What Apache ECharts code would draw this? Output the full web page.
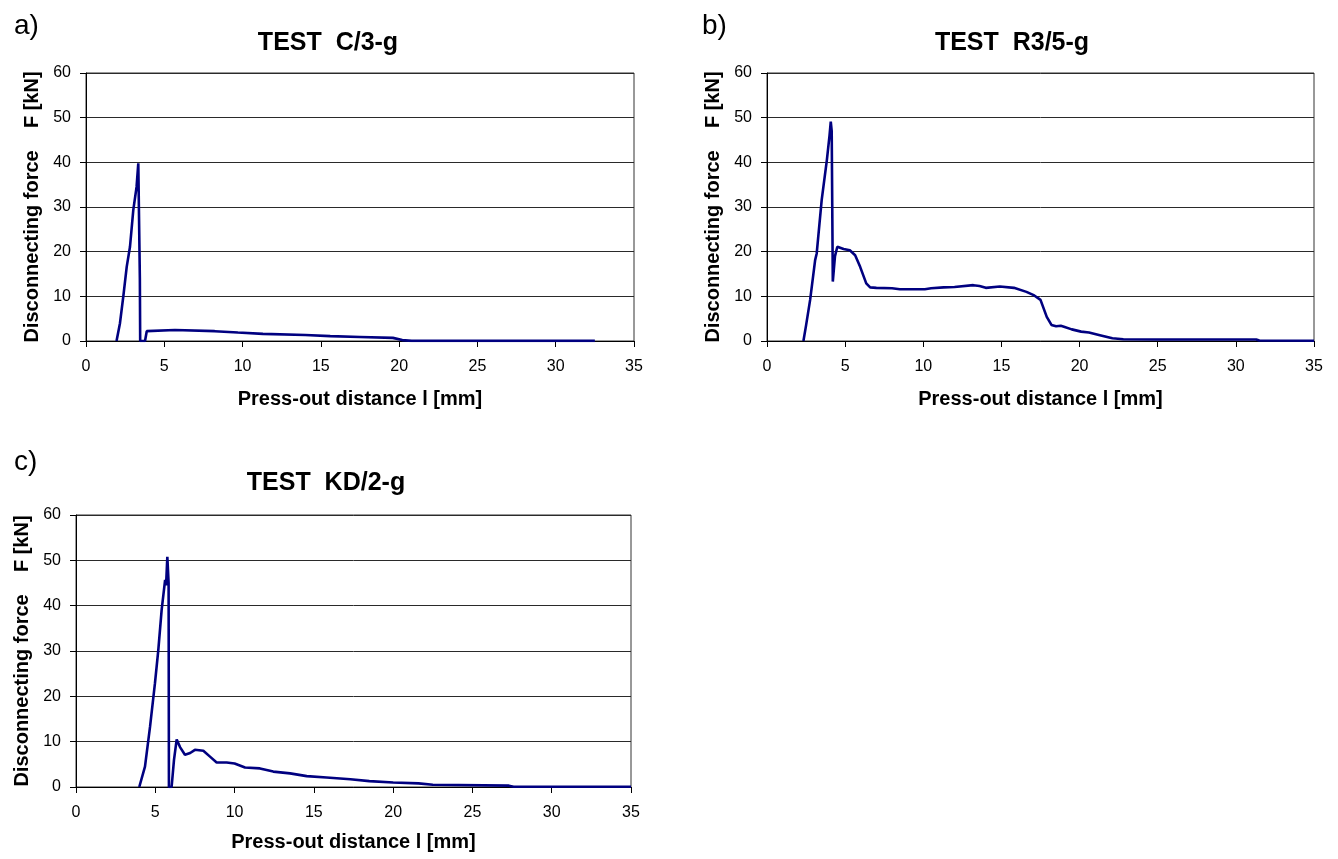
<!DOCTYPE html>
<html>
<head>
<meta charset="utf-8">
<script src="https://cdn.jsdelivr.net/npm/echarts@6/dist/echarts.min.js"></script>
<style>
html,body{margin:0;padding:0;background:#fff;}
#chart{width:1338px;height:859px;}
</style>
</head>
<body>
<div id="chart"></div>
<script>
// ---- Data ----
const titles = ['TEST  C/3-g', 'TEST  R3/5-g', 'TEST  KD/2-g'];
const panelLetters = ['a)', 'b)', 'c)'];
const xTickValues = [0, 5, 10, 15, 20, 25, 30, 35];
const yTickValues = [0, 10, 20, 30, 40, 50, 60];
const xName = 'Press-out distance l [mm]';
const yName = 'Disconnecting force    F [kN]';

// a) TEST C/3-g
const aX = [1.95, 2.17, 2.38, 2.6, 2.81, 3.02, 3.23, 3.34, 3.36, 3.44, 3.46, 3.77, 3.88, 3.98, 5.68, 5.72, 8.22, 8.26, 9.7, 9.76, 11.3, 11.35, 14.0, 14.05, 15.6, 15.65, 17.5, 17.55, 19.6, 19.7, 20.2, 20.8, 32.5];
const aY = [0, 4.0, 9.9, 16.6, 21.1, 29.3, 34.5, 39.8, 40.0, 14.0, 0, 0, 2.2, 2.45, 2.45, 2.2, 2.2, 1.9, 1.9, 1.6, 1.6, 1.35, 1.35, 1.1, 1.1, 0.9, 0.9, 0.7, 0.7, 0.45, 0.2, 0.02, 0.02];

// b) TEST R3/5-g
const bX = [2.33, 2.5, 2.76, 3.08, 3.18, 3.5, 3.83, 4.0, 4.08, 4.14, 4.21, 4.35, 4.5, 4.9, 5.3, 5.64, 5.96, 6.35, 6.6, 7.0, 8.0, 8.5, 10.1, 10.5, 11.3, 12.0, 13.2, 13.6, 14.0, 14.9, 15.8, 16.6, 17.1, 17.5, 17.9, 18.2, 18.5, 18.8, 19.0, 19.5, 20.1, 20.6, 21.3, 22.1, 22.8, 25.0, 31.3, 31.5, 35.0];
const bY = [0, 3.5, 9.2, 18.1, 19.6, 31.6, 40.5, 46.0, 49.1, 47.0, 13.3, 19.0, 21.1, 20.6, 20.3, 19.2, 16.6, 12.9, 12.0, 11.9, 11.8, 11.6, 11.6, 11.8, 12.0, 12.1, 12.5, 12.3, 11.9, 12.2, 11.9, 11.0, 10.2, 9.2, 5.4, 3.6, 3.3, 3.4, 3.2, 2.6, 2.1, 1.9, 1.3, 0.6, 0.4, 0.35, 0.35, 0.1, 0.05];

// c) TEST KD/2-g
const cX = [3.99, 4.35, 4.67, 4.98, 5.19, 5.40, 5.62, 5.68, 5.76, 5.84, 5.86, 6.03, 6.18, 6.35, 6.56, 6.87, 7.2, 7.5, 8.03, 8.45, 8.87, 9.5, 10.0, 10.66, 11.6, 12.44, 13.5, 14.55, 15.8, 17.3, 18.5, 20.0, 21.6, 22.5, 27.3, 27.6, 35.0];
const cY = [0, 4.5, 13.3, 22.9, 30.2, 39.0, 45.7, 44.5, 50.8, 45.0, 0, 0, 6.0, 10.5, 8.8, 7.1, 7.5, 8.2, 8.0, 6.7, 5.4, 5.4, 5.2, 4.3, 4.1, 3.4, 3.0, 2.4, 2.1, 1.7, 1.3, 1.0, 0.8, 0.5, 0.3, 0.05, 0.05];

const seriesX = [aX, bX, cX];
const seriesY = [aY, bY, cY];

// ---- Layout ----
const FONT = "'Liberation Sans', Arial, Helvetica, sans-serif";
const grids = [
  {left: 86, top: 73, width: 548, height: 268},
  {left: 767, top: 73, width: 547, height: 268},
  {left: 76, top: 515, width: 555, height: 272}
];
const xNameGaps = [48, 48, 45];
const titlePos = [[328, 43], [1012, 43], [326, 483]];
const letterPos = [[14, 26], [702, 26], [14, 462]];

const chart = echarts.init(document.getElementById('chart'), null, {renderer: 'canvas'});

const option = {
  animation: false,
  backgroundColor: '#ffffff',
  grid: grids.map(g => Object.assign({
    show: true, borderColor: '#333', borderWidth: 1, backgroundColor: 'transparent',
    containLabel: false, outerBoundsMode: 'none'
  }, g)),
  xAxis: grids.map((g, i) => ({
    type: 'value', gridIndex: i, min: xTickValues[0], max: xTickValues[xTickValues.length - 1],
    interval: xTickValues[1] - xTickValues[0],
    name: xName, nameLocation: 'middle', nameGap: xNameGaps[i],
    nameTextStyle: {fontFamily: FONT, fontSize: 20, fontWeight: 'bold', color: '#000'},
    axisLine: {show: true, onZero: false, lineStyle: {color: '#000', width: 1}},
    axisTick: {show: true, inside: false, length: 6, lineStyle: {color: '#000'}},
    axisLabel: {fontFamily: FONT, fontSize: 16, color: '#000', margin: 18},
    splitLine: {show: false}
  })),
  yAxis: grids.map((g, i) => ({
    type: 'value', gridIndex: i, min: yTickValues[0], max: yTickValues[yTickValues.length - 1],
    interval: yTickValues[1] - yTickValues[0],
    name: yName, nameLocation: 'middle', nameGap: 44, nameRotate: 90,
    nameTextStyle: {fontFamily: FONT, fontSize: 20, fontWeight: 'bold', color: '#000'},
    axisLine: {show: true, lineStyle: {color: '#000', width: 1}},
    axisTick: {show: true, inside: false, length: 6, lineStyle: {color: '#000'}},
    axisLabel: {fontFamily: FONT, fontSize: 16, color: '#000', margin: 15},
    splitLine: {show: true, lineStyle: {color: '#2a2a2a', width: 1}}
  })),
  series: seriesX.map((xs, i) => ({
    type: 'line', xAxisIndex: i, yAxisIndex: i,
    data: xs.map((x, k) => [x, seriesY[i][k]]),
    showSymbol: false, symbol: 'none', smooth: false,
    lineStyle: {color: '#000080', width: 2.6},
    itemStyle: {color: '#000080'}
  })),
  graphic: [
    ...titles.map((t, i) => ({
      type: 'text', x: titlePos[i][0], y: titlePos[i][1],
      style: {text: t, fontFamily: FONT, fontSize: 25, fontWeight: 'bold', fill: '#000',
              textAlign: 'center', textVerticalAlign: 'middle'}
    })),
    ...panelLetters.map((t, i) => ({
      type: 'text', x: letterPos[i][0], y: letterPos[i][1],
      style: {text: t, fontFamily: FONT, fontSize: 28, fill: '#000',
              textAlign: 'left', textVerticalAlign: 'middle'}
    }))
  ]
};
chart.setOption(option);
</script>
</body>
</html>
